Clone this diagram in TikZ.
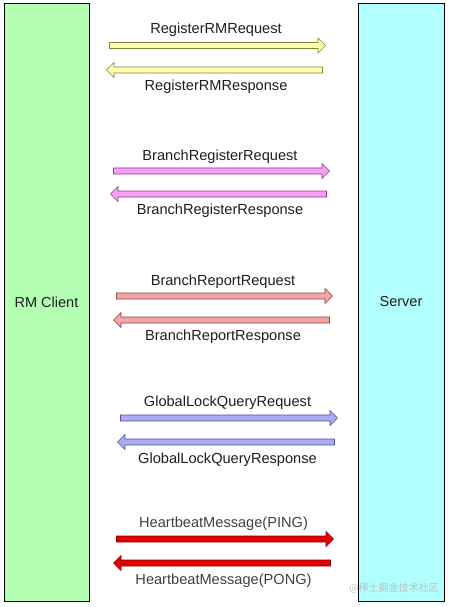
\documentclass[tikz,border=0pt]{standalone}
\usepackage{fontspec}
\setmainfont{Liberation Sans}
\newfontfamily\cjkf{Noto Sans CJK SC}
\usetikzlibrary{shapes.arrows}
\definecolor{clientgreen}{RGB}{180,255,180}
\definecolor{servercyan}{RGB}{178,255,255}
\definecolor{yfill}{RGB}{255,255,175}\definecolor{yline}{RGB}{130,130,60}
\definecolor{pfill}{RGB}{245,160,245}\definecolor{pline}{RGB}{140,60,140}
\definecolor{sfill}{RGB}{245,165,165}\definecolor{sline}{RGB}{140,70,70}
\definecolor{lfill}{RGB}{172,172,245}\definecolor{lline}{RGB}{80,80,150}
\definecolor{hfill}{RGB}{222,0,0}\definecolor{hline}{RGB}{150,0,0}
\definecolor{txt}{RGB}{30,30,30}
\begin{document}
\begin{tikzpicture}[x=1bp,y=-1bp,
  box/.style={draw=black,line width=0.8bp,minimum width=85bp,minimum height=598bp,inner sep=0pt,outer sep=0pt,font=\fontsize{14.5bp}{16bp}\selectfont,text=txt},
  msgarrow/.style={single arrow,single arrow head extend=4.5bp,inner sep=2.7bp,minimum width=0pt,minimum height=216bp,outer sep=0pt,line width=0.6bp},
  leftarrow/.style={msgarrow,shape border rotate=180},
  lbl/.style={font=\fontsize{14.6bp}{16bp}\selectfont,text=txt,inner sep=0pt}]
\useasboundingbox (0,0) rectangle (450,607);
\node[box,fill=clientgreen] (client) at (46.5,302) {RM Client};
\node[box,fill=servercyan,minimum width=86bp] (server) at (401,302) {Server};
% set 1
\node[msgarrow,fill=yfill,draw=yline] (a1) at (216,45.5) {};
\node[leftarrow,fill=yfill,draw=yline] (b1) at (216,70) {};
\node[lbl] (la1) at (216,30) {RegisterRMRequest};
\node[lbl] (lb1) at (216,87) {RegisterRMResponse};
% set 2
\node[msgarrow,fill=pfill,draw=pline] (a2) at (220,171) {};
\node[leftarrow,fill=pfill,draw=pline] (b2) at (220,194) {};
\node[lbl] (la2) at (220,157) {BranchRegisterRequest};
\node[lbl] (lb2) at (220,211) {BranchRegisterResponse};
% set 3
\node[msgarrow,fill=sfill,draw=sline] (a3) at (223,296) {};
\node[leftarrow,fill=sfill,draw=sline] (b3) at (223,320) {};
\node[lbl] (la3) at (223,282) {BranchReportRequest};
\node[lbl] (lb3) at (223,337) {BranchReportResponse};
% set 4
\node[msgarrow,fill=lfill,draw=lline,minimum height=217bp] (a4) at (227.5,418) {};
\node[leftarrow,fill=lfill,draw=lline,minimum height=217bp] (b4) at (227.5,442) {};
\node[lbl] (la4) at (227.5,403) {GlobalLockQueryRequest};
\node[lbl] (lb4) at (227.5,460) {GlobalLockQueryResponse};
% set 5
\node[msgarrow,fill=hfill,draw=hline,minimum height=217bp] (a5) at (223.5,539) {};
\node[leftarrow,fill=hfill,draw=hline,minimum height=217bp] (b5) at (223.5,563) {};
\node[lbl,text=black!75] (la5) at (223.5,524) {HeartbeatMessage(PING)};
\node[lbl,text=black!75] (lb5) at (223.5,581) {HeartbeatMessage(PONG)};
% watermark
\node[inner sep=0pt,text=black!25,font=\cjkf\fontsize{10bp}{12bp}\selectfont] (wm) at (394,588) {@稀土掘金技术社区};
\end{tikzpicture}
\end{document}
